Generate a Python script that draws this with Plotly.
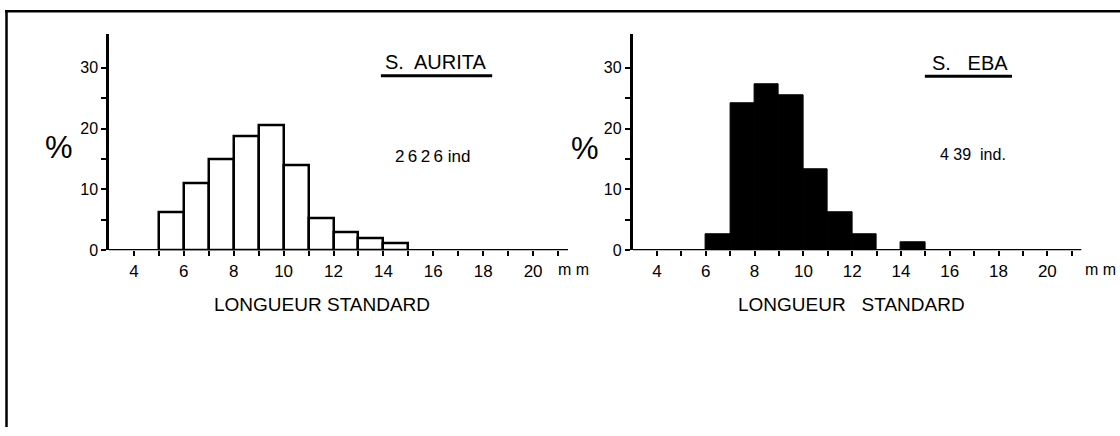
import plotly.graph_objects as go

# Length classes (mm, left edge of each 1 mm class) and percentage frequencies
classes = [5, 6, 7, 8, 9, 10, 11, 12, 13, 14]
aurita_pct = [6.2, 11.0, 15.0, 18.7, 20.6, 14.0, 5.2, 3.0, 2.0, 1.2]
eba_classes = [6, 7, 8, 9, 10, 11, 12, 14]
eba_pct = [2.6, 24.2, 27.3, 25.4, 13.3, 6.3, 2.6, 1.3]

x_ticks = list(range(4, 22))
x_labels = [str(v) if v % 2 == 0 else "" for v in x_ticks]
y_ticks = [0, 5, 10, 15, 20, 25, 30]
y_labels = ["0", "", "10", "", "20", "", "30"]

W, H = 1120, 436
FONT = "Liberation Sans, Arial, sans-serif"
INK = "black"
X_RANGE = [3, 21.4]


def px(x):
    return x / W


def py(y):
    return 1 - y / H


fig = go.Figure()

fig.add_trace(go.Bar(
    x=[c + 0.5 for c in classes], y=aurita_pct, width=1,
    marker=dict(color="white", line=dict(color=INK, width=2.5)),
    xaxis="x", yaxis="y", hoverinfo="skip",
))
fig.add_trace(go.Bar(
    x=[c + 0.5 for c in eba_classes], y=eba_pct, width=1,
    marker=dict(color=INK, line=dict(color=INK, width=1)),
    xaxis="x2", yaxis="y2", hoverinfo="skip",
))

xaxis_common = dict(
    range=X_RANGE, tickmode="array", tickvals=x_ticks, ticktext=x_labels,
    ticks="outside", ticklen=5, tickwidth=2, tickcolor=INK,
    showline=False, showgrid=False,
    zeroline=False, tickfont=dict(family=FONT, size=17, color=INK),
    fixedrange=True,
)
yaxis_common = dict(
    range=[0, 35.5], tickmode="array", tickvals=y_ticks, ticktext=y_labels,
    ticks="outside", ticklen=5, tickwidth=2, tickcolor=INK,
    showline=True, linecolor=INK, linewidth=2.5, showgrid=False,
    zeroline=False, tickfont=dict(family=FONT, size=16, color=INK),
    domain=[py(255.5), py(35)], fixedrange=True,
)

fig.update_layout(
    width=W, height=H,
    margin=dict(l=0, r=0, t=0, b=0),
    paper_bgcolor="white", plot_bgcolor="white",
    showlegend=False, bargap=0,
    xaxis=dict(xaxis_common, domain=[px(109), px(568)], anchor="y"),
    yaxis=dict(yaxis_common, anchor="x"),
    xaxis2=dict(xaxis_common, domain=[px(632.6), px(1081.5)], anchor="y2"),
    yaxis2=dict(yaxis_common, anchor="x2"),
)

annotations = [
    # species titles
    dict(text="S.\u00a0 AURITA", xref="x", yref="y", x=16.07, y=30.9,
         font=dict(size=20)),
    dict(text="S.\u00a0\u00a0 EBA", xref="x2", yref="y2", x=16.83, y=30.8,
         font=dict(size=20)),
    # sample sizes
    dict(text="2\u20096\u20092\u20096 ind", xref="x", yref="y", x=15.95, y=15.4,
         font=dict(size=17)),
    dict(text="4 39\u00a0 ind.", xref="x2", yref="y2", x=16.95, y=15.8,
         font=dict(size=16)),
    # unit after the last tick label
    dict(text="m m", xref="paper", yref="paper", x=px(573), y=py(275),
         font=dict(size=16)),
    dict(text="m m", xref="paper", yref="paper", x=px(1100), y=py(275),
         font=dict(size=16)),
    # y-axis unit
    dict(text="%", xref="paper", yref="paper", x=px(59), y=py(151),
         font=dict(size=31)),
    dict(text="%", xref="paper", yref="paper", x=px(585), y=py(152),
         font=dict(size=31)),
    # x-axis titles
    dict(text="LONGUEUR STANDARD", xref="paper", yref="paper",
         x=px(322), y=py(311), font=dict(size=19)),
    dict(text="LONGUEUR\u00a0\u00a0 STANDARD", xref="paper", yref="paper",
         x=px(851), y=py(311), font=dict(size=19)),
]
for a in annotations:
    a.setdefault("showarrow", False)
    a["font"] = dict(family=FONT, color=INK, **a["font"])
    a.setdefault("xanchor", "center")
    a.setdefault("yanchor", "middle")
fig.update_layout(annotations=annotations)

shapes = [
    # baselines at 0 %, drawn over the bar bottoms
    dict(type="line", xref="x", yref="y", x0=X_RANGE[0], x1=X_RANGE[1],
         y0=0, y1=0, line=dict(color=INK, width=2.5), layer="above"),
    dict(type="line", xref="x2", yref="y2", x0=X_RANGE[0], x1=X_RANGE[1],
         y0=0, y1=0, line=dict(color=INK, width=2.5), layer="above"),
    # title underlines
    dict(type="line", xref="x", yref="y", x0=13.9, x1=18.36, y0=28.7, y1=28.7,
         line=dict(color=INK, width=3)),
    dict(type="line", xref="x2", yref="y2", x0=14.98, x1=18.55, y0=28.6, y1=28.6,
         line=dict(color=INK, width=3)),
    # page frame (top and left edges)
    dict(type="line", xref="paper", yref="paper", x0=px(5), x1=1,
         y0=py(11.5), y1=py(11.5), line=dict(color=INK, width=2.5)),
    dict(type="line", xref="paper", yref="paper", x0=px(6.5), x1=px(6.5),
         y0=py(11.5), y1=0, line=dict(color=INK, width=2.5)),
]
fig.update_layout(shapes=shapes)

fig.write_html("out.html")
